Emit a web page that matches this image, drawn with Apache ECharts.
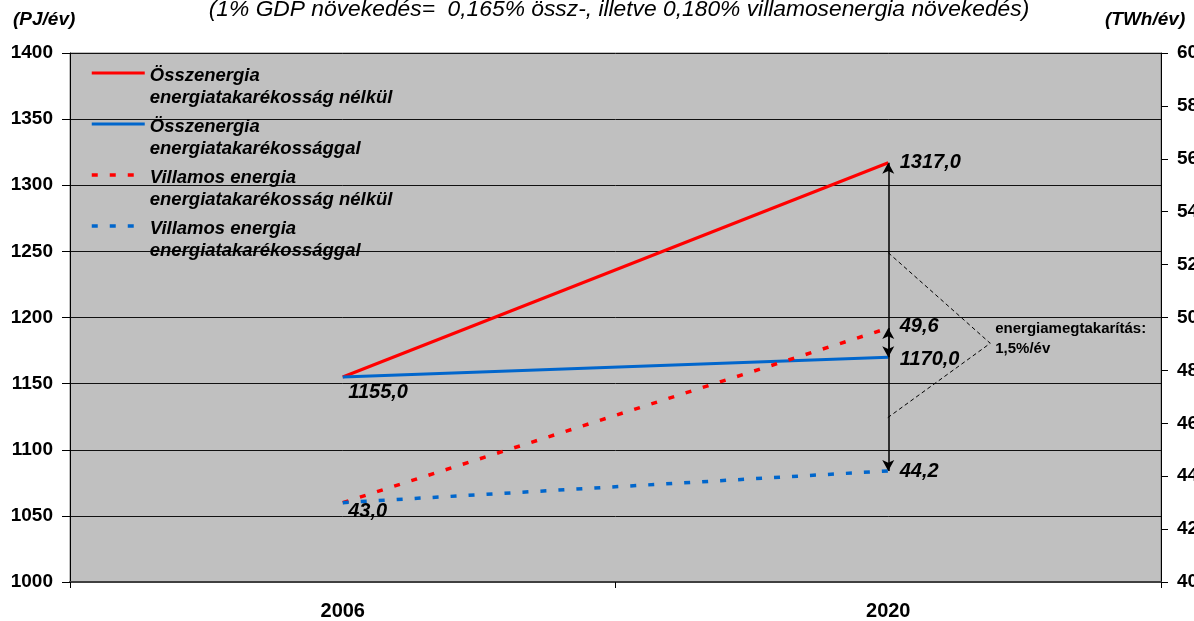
<!DOCTYPE html>
<html><head><meta charset="utf-8">
<script src="https://cdn.jsdelivr.net/npm/echarts@6/dist/echarts.min.js"></script>
<style>html,body{margin:0;padding:0;background:#fff}#c{width:1194px;height:621px}</style>
</head><body><div id="c"></div>
<script>
const categories = ['2006', '2020'];
const totalNoSaving = [1155.0, 1317.0];
const totalSaving = [1155.0, 1170.0];
const elecNoSaving = [43.0, 49.6];
const elecSaving = [43.0, 44.2];
const seriesNames = [
  'Összenergia\nenergiatakarékosság nélkül',
  'Összenergia\nenergiatakarékossággal',
  'Villamos energia\nenergiatakarékosság nélkül',
  'Villamos energia\nenergiatakarékossággal'
];
const leftAxisRange = [1000, 1400, 50];
const rightAxisRange = [40, 60, 2];
const titleText = '(1% GDP növekedés=  0,165% össz-, illetve 0,180% villamosenergia növekedés)';
const leftUnit = '(PJ/év)';
const rightUnit = '(TWh/év)';
const savingText = ['energiamegtakarítás:', '1,5%/év'];
const bracketValues = [1249, 1180.5, 1124];

const FONT = '"Liberation Sans", Arial, sans-serif';
const fmt = v => v.toFixed(1).replace('.', ',');
const RED = '#FF0000', BLUE = '#0066CC';

const labelBase = {show: true, color: '#000', fontFamily: FONT, fontSize: 20, fontWeight: 'bold', fontStyle: 'italic', formatter: p => fmt(p.value)};
function mkData(vals, labels) {
  return vals.map((v, i) => labels[i] ? {value: v, label: Object.assign({}, labelBase, labels[i])} : {value: v});
}
const legendFont = {color: '#000', fontFamily: FONT, fontSize: 18.5, fontWeight: 'bold', fontStyle: 'italic', lineHeight: 22};

const chart = echarts.init(document.getElementById('c'), null, {renderer: 'canvas'});
const option = {
  animation: false,
  backgroundColor: '#fff',
  grid: {left: 70, right: 33, top: 53, bottom: 39, outerBoundsMode: 'none', containLabel: false,
    show: true, backgroundColor: '#C0C0C0', borderColor: '#808080', borderWidth: 1},
  legend: {
    left: 90, top: 37, orient: 'vertical', padding: 0, itemWidth: 53, itemHeight: 4, itemGap: -21,
    data: seriesNames,
    formatter: name => '{s| }\n' + name.split('\n').map(l => '{t|' + l + '}').join('\n'),
    lineStyle: {width: 'inherit'},
    textStyle: Object.assign({}, legendFont, {
      rich: {
        s: Object.assign({}, legendFont, {lineHeight: 28, fontSize: 10}),
        t: Object.assign({}, legendFont)
      }
    })
  },
  xAxis: {
    type: 'category', data: categories, boundaryGap: true,
    axisLine: {lineStyle: {color: '#404040', width: 2}},
    axisTick: {show: true, length: 6, lineStyle: {color: '#000', width: 1}},
    axisLabel: {color: '#000', fontFamily: FONT, fontSize: 20, fontWeight: 'bold', margin: 19},
    splitLine: {show: false}
  },
  yAxis: [{
    type: 'value', min: leftAxisRange[0], max: leftAxisRange[1], interval: leftAxisRange[2], position: 'left',
    axisLine: {show: true, lineStyle: {color: '#000', width: 1}},
    axisTick: {show: true, length: 8, lineStyle: {color: '#000'}},
    axisLabel: {color: '#000', fontFamily: FONT, fontSize: 19, fontWeight: 'bold', margin: 17, formatter: v => String(v)},
    splitLine: {show: true, lineStyle: {color: '#111', width: 1}}
  }, {
    type: 'value', min: rightAxisRange[0], max: rightAxisRange[1], interval: rightAxisRange[2], position: 'right',
    axisLine: {show: true, lineStyle: {color: '#000', width: 1}},
    axisTick: {show: true, length: 7, lineStyle: {color: '#000'}},
    axisLabel: {color: '#000', fontFamily: FONT, fontSize: 19, fontWeight: 'bold', margin: 16, formatter: v => String(v)},
    splitLine: {show: false}
  }],
  series: [{
    name: seriesNames[0], type: 'line', yAxisIndex: 0, symbol: 'circle', symbolSize: 1,
    itemStyle: {color: 'rgba(0,0,0,0)'}, lineStyle: {color: RED, width: 3},
    data: mkData(totalNoSaving, [null, {position: 'right', distance: 11}]),
    markLine: {
      silent: true, symbol: ['arrow', 'arrow'], symbolSize: [9, 11], label: {show: false},
      lineStyle: {color: '#000', width: 1.5, type: 'solid'},
      data: [[{coord: [categories[1], totalNoSaving[1]]}, {coord: [categories[1], totalSaving[1]]}]]
    }
  }, {
    name: seriesNames[1], type: 'line', yAxisIndex: 0, symbol: 'circle', symbolSize: 1,
    itemStyle: {color: 'rgba(0,0,0,0)'}, lineStyle: {color: BLUE, width: 3},
    data: mkData(totalSaving, [{position: 'right', distance: 5, offset: [0, 15]}, {position: 'right', distance: 11, offset: [0, 2]}])
  }, {
    name: seriesNames[2], type: 'line', yAxisIndex: 1, symbol: 'circle', symbolSize: 1,
    itemStyle: {color: 'rgba(0,0,0,0)'}, lineStyle: {color: RED, width: 3.5, type: [6, 12]},
    data: mkData(elecNoSaving, [null, {position: 'right', distance: 11, offset: [0, -2]}]),
    markLine: {
      silent: true, symbol: ['arrow', 'arrow'], symbolSize: [9, 11], label: {show: false},
      lineStyle: {color: '#000', width: 1.5, type: 'solid'},
      data: [[{coord: [categories[1], elecNoSaving[1]]}, {coord: [categories[1], elecSaving[1]]}]]
    }
  }, {
    name: seriesNames[3], type: 'line', yAxisIndex: 1, symbol: 'circle', symbolSize: 1,
    itemStyle: {color: 'rgba(0,0,0,0)'}, lineStyle: {color: BLUE, width: 3.5, type: [6, 12]},
    data: mkData(elecSaving, [{position: 'right', distance: 5, offset: [0, 9]}, {position: 'right', distance: 11, offset: [0, 1]}])
  }]
};
chart.setOption(option);

const pTop = chart.convertToPixel({xAxisIndex: 0, yAxisIndex: 0}, [categories[1], bracketValues[0]]);
const pMid = chart.convertToPixel({xAxisIndex: 0, yAxisIndex: 0}, [categories[1], bracketValues[1]]);
const pBot = chart.convertToPixel({xAxisIndex: 0, yAxisIndex: 0}, [categories[1], bracketValues[2]]);
const apexX = pTop[0] + 102;
chart.setOption({
  graphic: [
    {type: 'text', x: 619, y: -2, style: {text: titleText, fill: '#000', font: 'italic 22.8px ' + FONT, align: 'center', verticalAlign: 'top'}},
    {type: 'text', x: 13, y: 20, style: {text: leftUnit, fill: '#000', font: 'italic bold 19px ' + FONT, verticalAlign: 'middle'}},
    {type: 'text', x: 1105, y: 20, style: {text: rightUnit, fill: '#000', font: 'italic bold 19px ' + FONT, verticalAlign: 'middle'}},
    {type: 'polyline', z: 5, shape: {points: [[pTop[0], pTop[1]], [apexX, pMid[1]], [pBot[0] - 1, pBot[1]]]},
      style: {stroke: '#000', lineWidth: 1, lineDash: [4, 3], fill: null}},
    {type: 'text', z: 6, x: apexX + 5, y: pMid[1] - 14, style: {text: savingText[0], fill: '#000', font: 'bold 15px ' + FONT, verticalAlign: 'middle'}},
    {type: 'text', z: 6, x: apexX + 5, y: pMid[1] + 6, style: {text: savingText[1], fill: '#000', font: 'bold 15px ' + FONT, verticalAlign: 'middle'}}
  ]
});
</script></body></html>
